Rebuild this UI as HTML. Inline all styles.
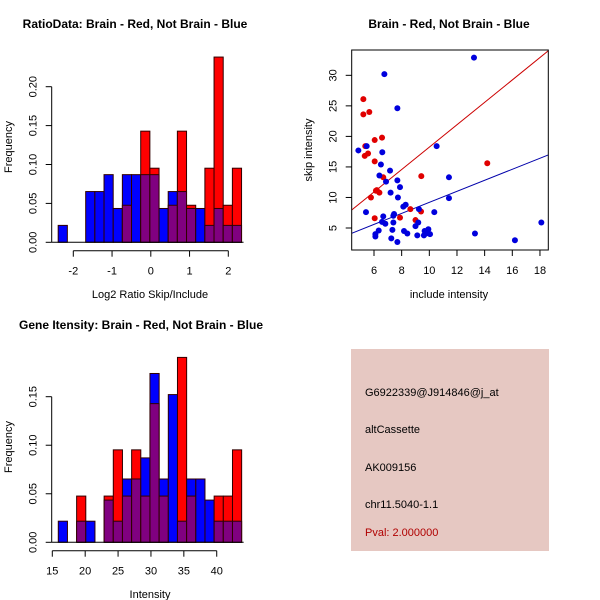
<!DOCTYPE html>
<html><head><meta charset="utf-8">
<style>
html,body{margin:0;padding:0;background:#fff;}
svg{display:block;font-family:"Liberation Sans",sans-serif;}
</style></head>
<body>
<svg id="s" width="600" height="600" viewBox="0 0 600 600">
<rect x="0" y="0" width="600" height="600" fill="#fff"/>
<text x="135" y="28" font-size="12" font-weight="bold" text-anchor="middle">RatioData: Brain - Red, Not Brain - Blue</text>
<text x="150" y="298" font-size="11" text-anchor="middle">Log2 Ratio Skip/Include</text>
<text transform="translate(12,147) rotate(-90)" font-size="11" text-anchor="middle">Frequency</text>
<text x="449" y="28" font-size="12" font-weight="bold" text-anchor="middle">Brain - Red, Not Brain - Blue</text>
<text x="449" y="298" font-size="11" text-anchor="middle">include intensity</text>
<text transform="translate(312,150) rotate(-90)" font-size="11" text-anchor="middle">skip intensity</text>
<text x="141" y="329" font-size="12" font-weight="bold" text-anchor="middle">Gene Itensity: Brain - Red, Not Brain - Blue</text>
<text x="150" y="598" font-size="11" text-anchor="middle">Intensity</text>
<text transform="translate(12,447) rotate(-90)" font-size="11" text-anchor="middle">Frequency</text>
<g>
<rect x="351" y="349" width="198" height="202" fill="#e6c8c2"/>
<text x="365" y="396" font-size="11">G6922339@J914846@j_at</text>
<text x="365" y="433" font-size="11">altCassette</text>
<text x="365" y="471" font-size="11">AK009156</text>
<text x="365" y="508" font-size="11">chr11.5040-1.1</text>
<text x="365" y="536" font-size="11" fill="#b00000">Pval: 2.000000</text>
</g>
<g id="g"></g>
</svg>
<script>
// Ratio histogram data
const ratioBinStart = -2.39, ratioBinWidth = 0.2366;
const ratioBlueCounts = [1,0,0,3,3,4,2,4,4,4,4,2,3,3,2,2,1,2,1,1];
const ratioRedCounts  = [0,0,0,0,0,0,0,1,0,3,2,0,1,3,1,0,2,5,1,2];
const ratioYTicks = [0,0.05,0.10,0.15,0.20];
const ratioYLabels = ["0.00","0.05","0.10","0.15","0.20"];
const ratioXTicks = [-2,-1,0,1,2];
// Intensity histogram data
const intBinStart = 15.91, intBinWidth = 1.394;
const intBlueCounts = [1,0,1,1,0,2,1,3,3,4,8,3,7,1,3,3,2,1,1,1];
const intRedCounts  = [0,0,1,0,0,1,2,1,2,1,3,1,0,4,1,0,0,1,1,2];
const intYTicks = [0,0.05,0.10,0.15];
const intYLabels = ["0.00","0.05","0.10","0.15"];
const intXTicks = [15,20,25,30,35,40];
// Scatter data
const redX = [5.23,5.23,5.66,6.05,6.58,5.33,5.57,5.37,6.05,6.67,5.78,6.14,6.39,6.05,7.88,8.63,9.0,9.42,9.4,14.19,6.2];
const redY = [26.1,23.6,24.0,19.4,19.8,16.8,17.2,18.4,15.9,13.3,10.0,11.1,10.8,6.6,6.7,8.1,6.3,13.5,7.7,15.6,11.2];
const blueX = [4.87,5.47,6.75,7.69,13.23,10.53,6.6,6.5,7.16,7.69,6.39,6.87,7.88,7.2,7.73,11.42,11.42,5.42,6.67,7.45,7.4,8.12,8.29,9.25,10.36,6.58,6.82,7.4,9.0,9.2,6.34,6.1,6.1,7.33,7.25,7.69,8.17,8.41,9.13,9.66,9.93,10.05,9.76,9.61,13.3,16.19,18.1];
const blueY = [17.7,18.4,30.2,24.6,32.9,18.4,17.4,15.4,14.4,12.8,13.6,12.6,11.7,10.8,10.0,9.9,13.3,7.6,6.9,7.3,7.0,8.5,8.8,8.1,7.6,6.0,5.7,5.9,5.3,5.9,4.6,4.0,3.6,4.7,3.3,2.7,4.5,4.1,3.8,4.5,4.8,4.0,4.1,3.8,4.1,3.0,5.9];
const redFit = [-0.10,1.834];   // intercept, slope
const blueFit = [0.17,0.903];
const scXTicks = [6,8,10,12,14,16,18];
const scYTicks = [5,10,15,20,25,30];

const NS="http://www.w3.org/2000/svg", G=document.getElementById('g');
function el(t,a,p){const e=document.createElementNS(NS,t);for(const k in a)e.setAttribute(k,a[k]);(p||G).appendChild(e);return e;}
const AX="#000";

function hist(opt){
  const {start,w,blue,red,xs,ys,yTicks,yLabels,xTicks,yAxisX,xAxisY,name}=opt;
  const nb=blue.reduce((a,b)=>a+b,0), nr=red.reduce((a,b)=>a+b,0);
  const grp=el('g',{});
  
  
  for(let i=0;i<blue.length;i++){
    const fb=blue[i]/nb, fr=red[i]/nr;
    const x0=xs(start+i*w), x1=xs(start+(i+1)*w);
    const hi=Math.max(fb,fr), lo=Math.min(fb,fr);
    if(hi>0){
      const r=el('rect',{x:x0,y:ys(hi),width:x1-x0,height:ys(0)-ys(hi),fill:fb>fr?'#0000ff':'#ff0000',stroke:'#300000','stroke-width':1},grp);
      
      
    }
    if(lo>0){
      const r=el('rect',{x:x0,y:ys(lo),width:x1-x0,height:ys(0)-ys(lo),fill:'#800080',stroke:'#300000','stroke-width':1},grp);
      
      
    }
  }
  el('line',{x1:yAxisX,x2:yAxisX,y1:ys(yTicks[0]),y2:ys(yTicks[yTicks.length-1]),stroke:AX},grp);
  yTicks.forEach((t,i)=>{
    el('line',{x1:yAxisX-6,x2:yAxisX,y1:ys(t),y2:ys(t),stroke:AX},grp);
    const tx=el('text',{transform:`translate(${yAxisX-15},${ys(t)}) rotate(-90)`,'font-size':11,'text-anchor':'middle'},grp);
    tx.textContent=yLabels[i];
    
    
  });
  el('line',{x1:xs(xTicks[0]),x2:xs(xTicks[xTicks.length-1]),y1:xAxisY,y2:xAxisY,stroke:AX},grp);
  xTicks.forEach(t=>{
    el('line',{x1:xs(t),x2:xs(t),y1:xAxisY,y2:xAxisY+6,stroke:AX},grp);
    const tx=el('text',{x:xs(t),y:xAxisY+24,'font-size':11,'text-anchor':'middle'},grp);
    tx.textContent=t;
    
    
  });
  el('line',{x1:yAxisX,x2:xs(start+blue.length*w)+2,y1:ys(0),y2:ys(0),stroke:AX},grp);
}
hist({name:'ratio-histogram',start:ratioBinStart,w:ratioBinWidth,blue:ratioBlueCounts,red:ratioRedCounts,
  xs:v=>73.3+(v+2)*38.75, ys:v=>242.3-v*778, yTicks:ratioYTicks,yLabels:ratioYLabels,xTicks:ratioXTicks,yAxisX:51.7,xAxisY:250.7});
hist({name:'intensity-histogram',start:intBinStart,w:intBinWidth,blue:intBlueCounts,red:intRedCounts,
  xs:v=>52.3+(v-15)*6.577, ys:v=>542.3-v*970.7, yTicks:intYTicks,yLabels:intYLabels,xTicks:intXTicks,yAxisX:51.7,xAxisY:550.7});

// Scatter
const sx=v=>374+(v-6)*13.83, sy=v=>228-(v-5)*6.107;
const sg=el('g',{});


const L=351.7,R=548.3,T=50,B=250;
const cp=el('clipPath',{id:'cp'},sg); el('rect',{x:L,y:T,width:R-L,height:B-T},cp);
[[redFit,'#cc0000'],[blueFit,'#0000aa']].forEach(([f,c],i)=>{
  const xa=(L-374)/13.83+6, xb=(R-374)/13.83+6;
  const ln=el('line',{x1:sx(xa),y1:sy(f[0]+f[1]*xa),x2:sx(xb),y2:sy(f[0]+f[1]*xb),stroke:c,'stroke-width':1,'clip-path':'url(#cp)'},sg);
  
  
});
redX.forEach((x,i)=>{
  const c=el('circle',{cx:sx(x),cy:sy(redY[i]),r:3,fill:'#e00000'},sg);
  
  
});
blueX.forEach((x,i)=>{
  const c=el('circle',{cx:sx(x),cy:sy(blueY[i]),r:3,fill:'#0000dd'},sg);
  
  
});
el('rect',{x:L,y:T,width:R-L,height:B-T,fill:'none',stroke:AX},sg);
scXTicks.forEach(t=>{
  el('line',{x1:sx(t),x2:sx(t),y1:B,y2:B+6,stroke:AX},sg);
  const tx=el('text',{x:sx(t),y:B+24,'font-size':11,'text-anchor':'middle'},sg);
  tx.textContent=t;
  
  
});
scYTicks.forEach(t=>{
  el('line',{x1:L-6,x2:L,y1:sy(t),y2:sy(t),stroke:AX},sg);
  const tx=el('text',{transform:`translate(${L-15},${sy(t)}) rotate(-90)`,'font-size':11,'text-anchor':'middle'},sg);
  tx.textContent=t;
  
  
});
</script>
</body></html>
